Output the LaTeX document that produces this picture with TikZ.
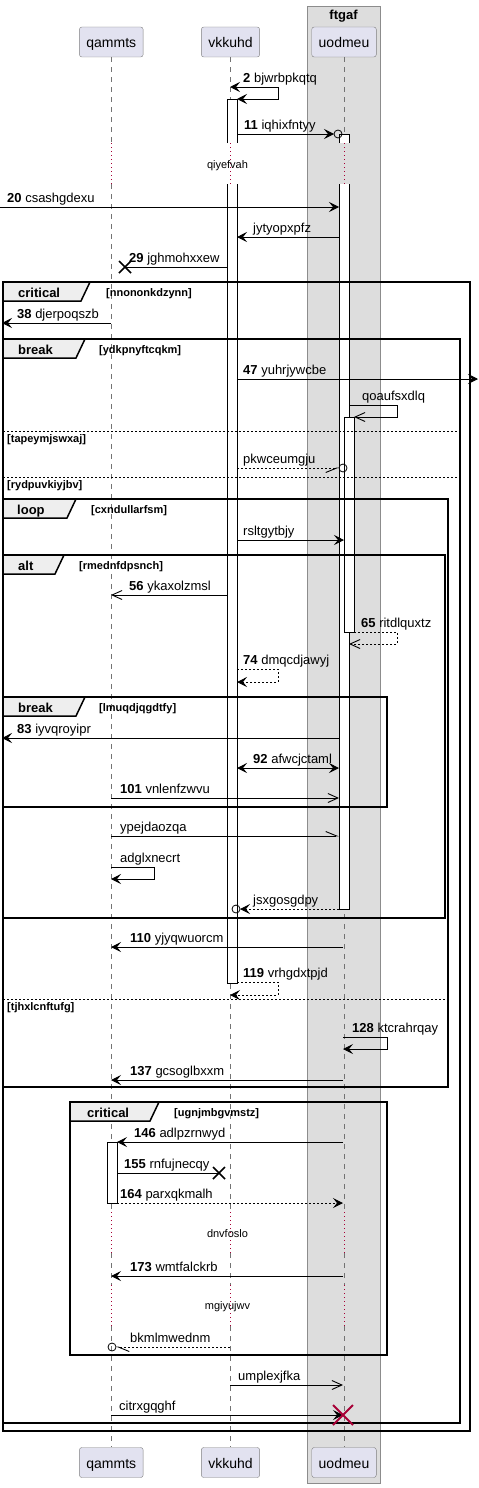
\documentclass[tikz,border=0pt]{standalone}
\usepackage{fontspec}
\setmainfont{Liberation Sans}
\usetikzlibrary{arrows.meta}

\definecolor{partfill}{HTML}{E2E2F0}
\definecolor{boxfill}{HTML}{DDDDDD}
\definecolor{tabfill}{HTML}{EEEEEE}
\definecolor{delayred}{HTML}{A80036}

\tikzset{
  part/.style={draw=black!50, fill=partfill, rounded corners=2.5pt, minimum height=30pt,
    inner xsep=7pt, text height=12pt, text depth=0pt, font=\fontsize{14}{14}\selectfont},
  life/.style={draw=black!55, line width=0.6pt, dash pattern=on 5pt off 5pt},
  dly/.style={draw=delayred, line width=0.8pt, dash pattern=on 1pt off 3pt},
  msg/.style={line width=0.9pt, -{Stealth[length=10pt,width=10pt,inset=4pt]}},
  bmsg/.style={line width=0.9pt, {Stealth[length=10pt,width=10pt,inset=4pt]}-{Stealth[length=10pt,width=10pt,inset=4pt]}},
  amsg/.style={line width=0.9pt, -{Straight Barb[length=10pt,width=9pt]}},
  hup/.style={line width=0.9pt, -{Straight Barb[length=11pt,width=9pt,harpoon]}},
  hdown/.style={line width=0.9pt, -{Straight Barb[length=11pt,width=9pt,harpoon,swap]}},
  rep/.style={dash pattern=on 2pt off 2pt},
  lbl/.style={anchor=base west, inner sep=0pt, font=\fontsize{13}{13}\selectfont},
  act/.style={draw, fill=white, line width=0.8pt},
  frm/.style={draw, line width=1.5pt},
  tabbox/.style={draw, fill=tabfill, line width=1.5pt},
  tabtxt/.style={anchor=base west, inner sep=0pt, font=\bfseries\fontsize{13}{13}\selectfont},
  grd/.style={anchor=base west, inner sep=0pt, font=\bfseries\fontsize{11}{11}\selectfont},
  dtxt/.style={anchor=base, inner sep=0pt, font=\fontsize{11}{11}\selectfont},
  sep/.style={line width=0.8pt, dash pattern=on 2pt off 2pt},
  kill/.style={line width=1.5pt},
}

\begin{document}
\begin{tikzpicture}[x=1pt,y=-1pt]
\useasboundingbox (0,0) rectangle (479,1488);

% box ftgaf
\filldraw[fill=boxfill, draw=black!45, line width=0.8pt] (307,6) rectangle (380,1483);
\node[anchor=base, inner sep=0pt, font=\bfseries\fontsize{13}{13}\selectfont] (ftgaf) at (343.5,19.5) {ftgaf};

% participants
\node[part] (qa) at (111.3,42) {qammts};
\node[part] (vk) at (230.5,42) {vkkuhd};
\node[part] (uo) at (344,42) {uodmeu};
\node[part] (bqa) at (111.3,1462.5) {qammts};
\node[part] (bvk) at (230.5,1462.5) {vkkuhd};
\node[part] (buo) at (344,1462.5) {uodmeu};

% lifelines, with the delays
\foreach \p in {qa,vk,uo} {
  \draw[life] (\p.south) -- (\p |- 0,143);
  \draw[dly] (\p |- 0,143) -- (\p |- 0,184);
  \draw[life] (\p |- 0,184) -- (\p |- 0,1212);
  \draw[dly] (\p |- 0,1212) -- (\p |- 0,1253);
  \draw[life] (\p |- 0,1253) -- (\p |- 0,1285);
  \draw[dly] (\p |- 0,1285) -- (\p |- 0,1326);
  \draw[life] (\p |- 0,1326) -- (b\p.north);
}
\node[dtxt] (qiyefvah) at (227.5,168) {qiyefvah};
\node[dtxt] (dnvfoslo) at (227.5,1237) {dnvfoslo};
\node[dtxt] (mgiyujwv) at (227.5,1309) {mgiyujwv};

% activations
\filldraw[act] (227,143) -- (227,99) -- (237,99) -- (237,143);
\filldraw[act] (227,184) -- (227,983) -- (237,983) -- (237,184);
\filldraw[act] (339,143) -- (339,134) -- (349,134) -- (349,143);
\filldraw[act] (339,184) -- (339,909) -- (349,909) -- (349,184);
\filldraw[act] (344,417) rectangle (354,632);
\filldraw[act] (107,1142) rectangle (117,1203);

% groups
\draw[frm] (3,282) rectangle (470,1431);
\filldraw[tabbox] (3,282) -- (90,282) -- (81,301) -- (3,301) -- cycle;
\node[tabtxt] (crit1) at (18,297) {critical};
\node[grd] (g1) at (106,296) {[nnononkdzynn]};

\draw[frm] (3,339) rectangle (460,1423);
\filldraw[tabbox] (3,339) -- (85,339) -- (76,358) -- (3,358) -- cycle;
\node[tabtxt] (brk1) at (18,354) {break};
\node[grd] (g2) at (99,353) {[ydkpnyftcqkm]};
\draw[sep] (3,431) -- (460,431);
\node[grd] (e1) at (7,442) {[tapeymjswxaj]};
\draw[sep] (3,477) -- (460,477);
\node[grd] (e2) at (7,488) {[rydpuvkiyjbv]};

\draw[frm] (3,499) rectangle (448,1087);
\filldraw[tabbox] (3,499) -- (76,499) -- (67,518) -- (3,518) -- cycle;
\node[tabtxt] (loop1) at (17,514) {loop};
\node[grd] (g3) at (91,513) {[cxndullarfsm]};
\draw[sep] (3,999) -- (448,999);
\node[grd] (e3) at (7,1010) {[tjhxlcnftufg]};

\draw[frm] (3,555) rectangle (445,918);
\filldraw[tabbox] (3,555) -- (64,555) -- (55,574) -- (3,574) -- cycle;
\node[tabtxt] (alt1) at (18,570) {alt};
\node[grd] (g4) at (79,569) {[rmednfdpsnch]};

\draw[frm] (3,697) rectangle (387,807);
\filldraw[tabbox] (3,697) -- (85,697) -- (76,716) -- (3,716) -- cycle;
\node[tabtxt] (brk2) at (18,712) {break};
\node[grd] (g5) at (99,711) {[lmuqdjqgdtfy]};

\draw[frm] (70,1102) rectangle (387,1355);
\filldraw[tabbox] (70,1102) -- (159,1102) -- (150,1121) -- (70,1121) -- cycle;
\node[tabtxt] (crit2) at (87,1117) {critical};
\node[grd] (g6) at (174,1116) {[ugnjmbgvmstz]};

% messages
\draw[bmsg] (230,87) -- (278,87) -- (278,99) -- (237,99);
\node[lbl] at (243,82) {\textbf{2} bjwrbpkqtq};
\draw[msg] (237,134) -- (334,134);
\draw[line width=0.8pt] (338,134) circle (4);
\node[lbl] at (244,129) {\textbf{11} iqhixfntyy};
\draw[msg] (0,207) -- (339,207);
\node[lbl] at (7,202) {\textbf{20} csashgdexu};
\draw[msg] (339,237) -- (237,237);
\node[lbl] at (253,232) {jytyopxpfz};
\draw[line width=0.9pt] (227,267) -- (125,267);
\draw[kill] (119,261) -- (131,273) (119,273) -- (131,261);
\node[lbl] at (129,262) {\textbf{29} jghmohxxew};
\draw[msg] (111,323) -- (2,323);
\node[lbl] at (17,318) {\textbf{38} djerpoqszb};
\draw[msg] (237,379) -- (478,379);
\node[lbl] at (243,374) {\textbf{47} yuhrjywcbe};
\draw[amsg] (349,405) -- (397,405) -- (397,417) -- (354,417);
\node[lbl] at (362,400) {qoaufsxdlq};
\draw[hdown, rep] (237,468) -- (339,468);
\draw[line width=0.8pt] (343,468) circle (4);
\node[lbl] at (243,463) {pkwceumgju};
\draw[msg] (237,540) -- (344,540);
\node[lbl] at (243,535) {rsltgytbjy};
\draw[amsg] (227,595) -- (111,595);
\node[lbl] at (129,590) {\textbf{56} ykaxolzmsl};
\draw[amsg, rep] (354,632) -- (397,632) -- (397,644) -- (349,644);
\node[lbl] at (361,627) {\textbf{65} ritdlquxtz};
\draw[msg, rep] (237,669) -- (278,669) -- (278,682) -- (237,682);
\node[lbl] at (243,664) {\textbf{74} dmqcdjawyj};
\draw[msg] (339,738) -- (2,738);
\node[lbl] at (17,733) {\textbf{83} iyvqroyipr};
\draw[bmsg] (237,768) -- (339,768);
\node[lbl] at (253,763) {\textbf{92} afwcjctaml};
\draw[amsg] (111,798) -- (339,798);
\node[lbl] at (120,793) {\textbf{101} vnlenfzwvu};
\draw[hup] (111,836) -- (339,836);
\node[lbl] at (120,831) {ypejdaozqa};
\draw[msg] (111,867) -- (154,867) -- (154,879) -- (111,879);
\node[lbl] at (120,862) {adglxnecrt};
\draw[msg, rep] (339,909) -- (240,909);
\draw[line width=0.8pt] (236,909) circle (4);
\node[lbl] at (253,904) {jsxgosgdpy};
\draw[msg] (343,947) -- (111,947);
\node[lbl] at (130,942) {\textbf{110} yjyqwuorcm};
\draw[msg, rep] (237,982) -- (278,982) -- (278,995) -- (230,995);
\node[lbl] at (243,977) {\textbf{119} vrhgdxtpjd};
\draw[msg] (343,1037) -- (387,1037) -- (387,1049) -- (343,1049);
\node[lbl] at (352,1032) {\textbf{128} ktcrahrqay};
\draw[msg] (343,1080) -- (111,1080);
\node[lbl] at (130,1075) {\textbf{137} gcsoglbxxm};
\draw[msg] (343,1142) -- (117,1142);
\node[lbl] at (134,1137) {\textbf{146} adlpzrnwyd};
\draw[line width=0.9pt] (117,1173) -- (219,1173);
\draw[kill] (213,1167) -- (225,1179) (213,1179) -- (225,1167);
\node[lbl] at (124,1168) {\textbf{155} rnfujnecqy};
\draw[msg, rep] (117,1203) -- (343,1203);
\node[lbl] at (120,1198) {\textbf{164} parxqkmalh};
\draw[msg] (343,1276) -- (111,1276);
\node[lbl] at (130,1271) {\textbf{173} wmtfalckrb};
\draw[hup, rep] (230,1347) -- (116,1347);
\draw[line width=0.8pt] (112,1347) circle (4);
\node[lbl] at (130,1342) {bkmlmwednm};
\draw[amsg] (230,1385) -- (343,1385);
\node[lbl] at (238,1380) {umplexjfka};
\draw[msg] (111,1415) -- (343,1415);
\draw[kill, draw=delayred, line width=2pt] (333,1405) -- (353,1425) (333,1425) -- (353,1405);
\node[lbl] at (119,1410) {citrxgqghf};
\end{tikzpicture}
\end{document}
